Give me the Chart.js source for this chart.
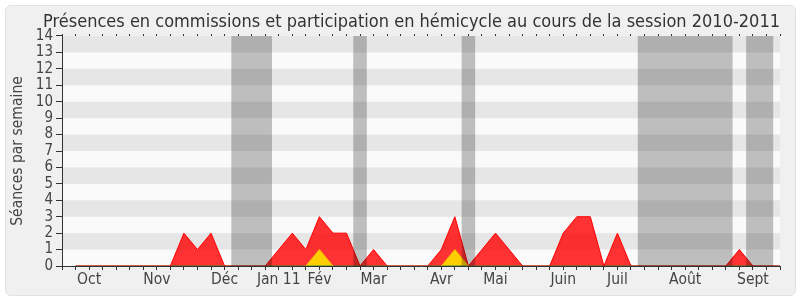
<!DOCTYPE html>
<html><head><meta charset="utf-8">
<script src="https://cdn.jsdelivr.net/npm/chart.js@4.4.0/dist/chart.umd.min.js"></script>
<style>
html,body{margin:0;padding:0;background:#fff;}
#wrap{position:relative;width:800px;height:300px;}
#card{position:absolute;left:5px;top:5px;width:789px;height:289px;background:#f0f0f0;border:1px solid #e2e2e2;border-radius:6px;}
canvas{position:absolute;left:0;top:0;}
</style></head><body>
<div id="wrap"><div id="card"></div><canvas id="c" width="800" height="300"></canvas></div>
<script>
const chartTitle = "Présences en commissions et participation en hémicycle au cours de la session 2010-2011";
const yAxisTitle = "Séances par semaine";
const weekCount = 53;
const monthLabels = ["Oct","Nov","Déc","Jan 11","Fév","Mar","Avr","Mai","Juin","Juil","Août","Sept"];
const monthWeeks  = [2, 7, 12, 16, 19, 23, 28, 32, 37, 41, 46, 51];
const yTickValues = [0,1,2,3,4,5,6,7,8,9,10,11,12,13,14];
// weeks 1..53
const presenceSeries = [0,0,0,0,0,0,0,0,2,1,2,0,0,0,0,1,2,1,3,2,2,0,1,0,0,0,0,1,3,0,1,2,1,0,0,0,2,3,3,0,2,0,0,0,0,0,0,0,0,1,0,0,0];
const interventionSeries = [0,0,0,0,0,0,0,0,0,0,0,0,0,0,0,0,0,0,1,0,0,0,0,0,0,0,0,0,1,0,0,0,0,0,0,0,0,0,0,0,0,0,0,0,0,0,0,0,0,0,0,0,0];
const questionSeries = [0,0,0,0,0,0,0,0,0,0,0,0,0,0,0,0,0,0,0,0,0,0,0,0,0,0,0,0,0,0,0,0,0,0,0,0,0,0,0,0,0,0,0,0,0,0,0,0,0,0,0,0,0];
const vacationStart = [12.5, 21.5, 29.5, 42.5, 50.5];
const vacationEnd   = [15.5, 22.5, 30.5, 49.5, 52.5];

const toPoints = arr => arr.map((v, i) => ({x: i + 1, y: v}));
const FONT = "'DejaVu Sans Condensed', 'DejaVu Sans', sans-serif";
Chart.defaults.font.family = FONT;

function weekTicks(s) {
  const t = [];
  for (let w = 0; w <= weekCount; w++) t.push({value: w});
  s.ticks = t;
}

const bgPlugin = {
  id: 'bg',
  beforeDraw(chart) {
    const {ctx, chartArea: a, scales: {y}} = chart;
    ctx.save();
    ctx.fillStyle = '#fafafa';
    ctx.fillRect(a.left, a.top, a.width, a.height);
    ctx.fillStyle = '#e6e6e6';
    for (let v = 1; v < 14; v += 2) {
      const y1 = y.getPixelForValue(v + 1), y0 = y.getPixelForValue(v);
      ctx.fillRect(a.left, y1, a.width, y0 - y1);
    }
    ctx.restore();
  },
  afterDatasetsDraw(chart) {
    const {ctx, chartArea: a, scales: {x}} = chart;
    ctx.save();
    ctx.fillStyle = 'rgba(0,0,0,0.24)';
    for (let i = 0; i < vacationStart.length; i++) {
      const x0 = x.getPixelForValue(vacationStart[i]);
      const x1 = x.getPixelForValue(vacationEnd[i]);
      ctx.fillRect(x0, a.top, x1 - x0, a.height);
    }
    ctx.restore();
  }
};

new Chart(document.getElementById('c'), {
  type: 'line',
  data: {
    datasets: [
      {
        data: toPoints(interventionSeries),
        backgroundColor: 'rgba(255,215,0,0.95)',
        borderColor: 'rgb(240,190,0)',
        borderWidth: 1,
        fill: 'origin',
        pointRadius: 0,
        tension: 0,
        segment: {
          borderColor: c => (c.p0.parsed.y === 0 && c.p1.parsed.y === 0) ? 'rgba(0,0,0,0)' : 'rgb(240,190,0)'
        }
      },
      {
        data: toPoints(presenceSeries),
        backgroundColor: 'rgba(255,0,0,0.8)',
        borderColor: 'rgb(255,0,0)',
        borderWidth: 1,
        fill: 'origin',
        pointRadius: 0,
        tension: 0
      },
      {
        data: toPoints(questionSeries),
        borderColor: 'rgb(40,140,40)',
        borderWidth: 1,
        fill: false,
        pointRadius: 0,
        tension: 0
      }
    ]
  },
  options: {
    responsive: false,
    animation: false,
    devicePixelRatio: 1,
    layout: {padding: {left: 5, right: 20, top: 0, bottom: 0}},
    plugins: {
      legend: {display: false},
      tooltip: {enabled: false},
      filler: {drawTime: 'beforeDatasetsDraw'},
      title: {
        display: true,
        text: chartTitle,
        align: 'end',
        color: '#333',
        font: {size: 18, weight: 'normal', lineHeight: 1.2},
        padding: {top: 12, bottom: 0}
      }
    },
    scales: {
      x: {
        type: 'linear',
        position: 'bottom',
        min: 0, max: weekCount,
        afterBuildTicks: weekTicks,
        afterFit: s => { s.height = 34; },
        ticks: {
          autoSkip: false, maxRotation: 0, minRotation: 0, padding: 1,
          color: '#444', font: {size: 15.5},
          callback: v => { const i = monthWeeks.indexOf(v); return i >= 0 ? monthLabels[i] : ''; }
        },
        grid: {drawOnChartArea: false, drawTicks: true, tickLength: 4, tickColor: '#333'},
        border: {display: true, color: '#333'}
      },
      x2: {
        type: 'linear',
        position: 'top',
        min: 0, max: weekCount,
        afterBuildTicks: weekTicks,
        afterFit: s => { s.height = 2.4; },
        ticks: {display: false},
        grid: {drawOnChartArea: false, drawTicks: true, tickLength: 2, tickColor: '#333'},
        border: {display: false}
      },
      y: {
        min: 0, max: 14,
        afterBuildTicks: s => { s.ticks = yTickValues.map(v => ({value: v})); },
        afterFit: s => { s.width = 57; },
        ticks: {color: '#444', font: {size: 15}, padding: 3, autoSkip: false},
        grid: {drawOnChartArea: false, tickLength: 6, tickColor: '#333'},
        border: {display: true, color: '#333'},
        title: {
          display: true, text: yAxisTitle, color: '#444',
          font: {size: 15.5, lineHeight: 1.2},
          padding: {top: 4, bottom: 0}
        }
      }
    }
  },
  plugins: [bgPlugin]
});
</script>
</body></html>
